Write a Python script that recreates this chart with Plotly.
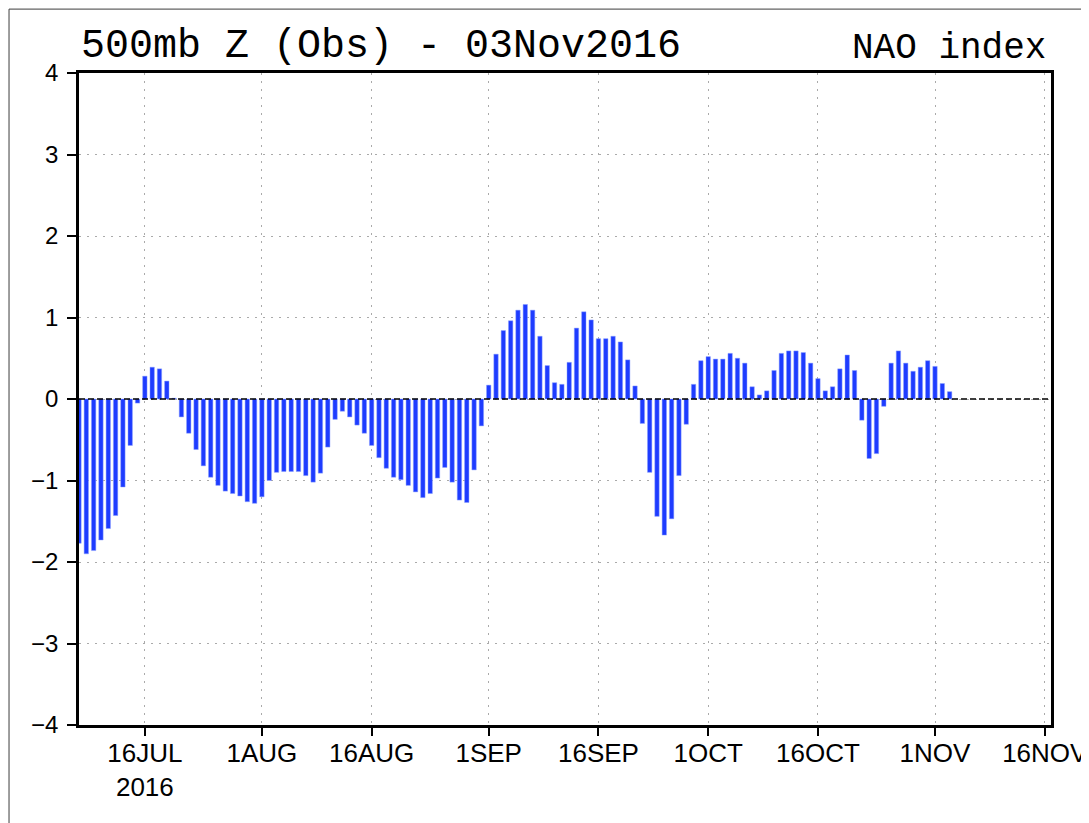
import pandas as pd
import plotly.graph_objects as go

# ---- data: daily NAO index, 7 Jul 2016 .. 3 Nov 2016 ----
start_date = "2016-07-07"
jul_vals = [-1.77, -1.90, -1.86, -1.73, -1.59, -1.43, -1.08, -0.57, -0.05, 0.28,
            0.39, 0.37, 0.22, 0.01, -0.22, -0.42, -0.62, -0.82, -0.96, -1.06,
            -1.13, -1.16, -1.19, -1.26, -1.28]
aug_vals = [-1.20, -1.00, -0.90, -0.89, -0.89, -0.89, -0.94, -1.02, -0.91, -0.59,
            -0.25, -0.15, -0.22, -0.32, -0.42, -0.57, -0.72, -0.85, -0.96, -0.99,
            -1.06, -1.14, -1.21, -1.16, -0.97, -0.84, -1.02, -1.24, -1.27, -0.87,
            -0.33]
sep_vals = [0.17, 0.55, 0.84, 0.96, 1.09, 1.16, 1.09, 0.77, 0.41, 0.20,
            0.18, 0.45, 0.87, 1.07, 0.97, 0.74, 0.74, 0.77, 0.70, 0.48,
            0.16, -0.30, -0.90, -1.44, -1.67, -1.47, -0.94, -0.31, 0.18, 0.47]
oct_vals = [0.52, 0.49, 0.49, 0.56, 0.50, 0.44, 0.15, 0.05, 0.10, 0.35,
            0.56, 0.59, 0.59, 0.57, 0.44, 0.25, 0.10, 0.15, 0.37, 0.54,
            0.35, -0.26, -0.73, -0.67, -0.09, 0.44, 0.59, 0.44, 0.34, 0.39,
            0.47]
nov_vals = [0.40, 0.19, 0.09]

tick_dates = ["2016-07-16", "2016-08-01", "2016-08-16", "2016-09-01", "2016-09-16",
              "2016-10-01", "2016-10-16", "2016-11-01", "2016-11-16"]
tick_labels = ["16JUL<br>2016", "1AUG", "16AUG", "1SEP", "16SEP",
               "1OCT", "16OCT", "1NOV", "16NOV"]
y_ticks = [-4, -3, -2, -1, 0, 1, 2, 3, 4]

values = jul_vals + aug_vals + sep_vals + oct_vals + nov_vals
dates = pd.date_range(start_date, periods=len(values), freq="D")

title_left = "500mb Z (Obs) - 03Nov2016"
title_right = "NAO index"

BLUE = "rgb(30,60,255)"
GRID = "rgb(170,170,170)"
LABEL_FONT = dict(family="Liberation Sans, Arial, sans-serif", color="black")

fig = go.Figure()
fig.add_trace(go.Bar(
    x=dates, y=values,
    marker=dict(color=BLUE, line=dict(color="rgba(140,160,255,0.8)", width=0.6)),
    width=0.6 * 86400000,
    showlegend=False,
))

fig.update_layout(
    width=1089, height=823,
    margin=dict(l=71, r=46, t=65, b=106),
    paper_bgcolor="white", plot_bgcolor="white",
    xaxis=dict(
        type="date", automargin=False,
        range=["2016-07-07 00:00", "2016-11-16 20:30"],
        tickvals=tick_dates, ticktext=tick_labels,
        tickfont=dict(size=26, **LABEL_FONT),
        ticks="outside", ticklen=8, tickwidth=1.5, tickcolor="black",
        showgrid=True, gridcolor=GRID, griddash="2px,6px", gridwidth=1,
        showline=True, linecolor="black", linewidth=2.5, mirror=True,
        zeroline=False, ticklabeloverflow="allow", ticklabelstandoff=-5,
    ),
    yaxis=dict(
        range=[-4, 4], automargin=False,
        tickvals=y_ticks,
        tickfont=dict(size=24, **LABEL_FONT),
        ticks="outside", ticklen=9, tickwidth=1.5, tickcolor="black",
        showgrid=True, gridcolor=GRID, griddash="2px,6px", gridwidth=1,
        showline=True, linecolor="black", linewidth=2.5, mirror=True,
        zeroline=False, ticklabelstandoff=4,
    ),
    shapes=[
        dict(type="line", xref="paper", yref="y", x0=0, x1=1, y0=0, y1=0,
             line=dict(color="black", width=1.5, dash="6px,3px"), layer="above"),
        dict(type="rect", xref="paper", yref="paper",
             x0=-0.072, x1=1.037, y0=-0.2, y1=1.098,
             line=dict(color="rgb(60,60,60)", width=1), layer="below"),
    ],
    annotations=[
        dict(text=title_left, xref="paper", yref="paper", x=0.0, y=1.0,
             xanchor="left", yanchor="bottom", yshift=2, showarrow=False,
             font=dict(family="Liberation Mono, DejaVu Sans Mono, monospace",
                       size=40, color="black")),
        dict(text=title_right, xref="paper", yref="paper", x=0.997, y=1.0,
             xanchor="right", yanchor="bottom", yshift=2, showarrow=False,
             font=dict(family="Liberation Mono, DejaVu Sans Mono, monospace",
                       size=36, color="black")),
    ],
)

fig.write_html("out.html")
